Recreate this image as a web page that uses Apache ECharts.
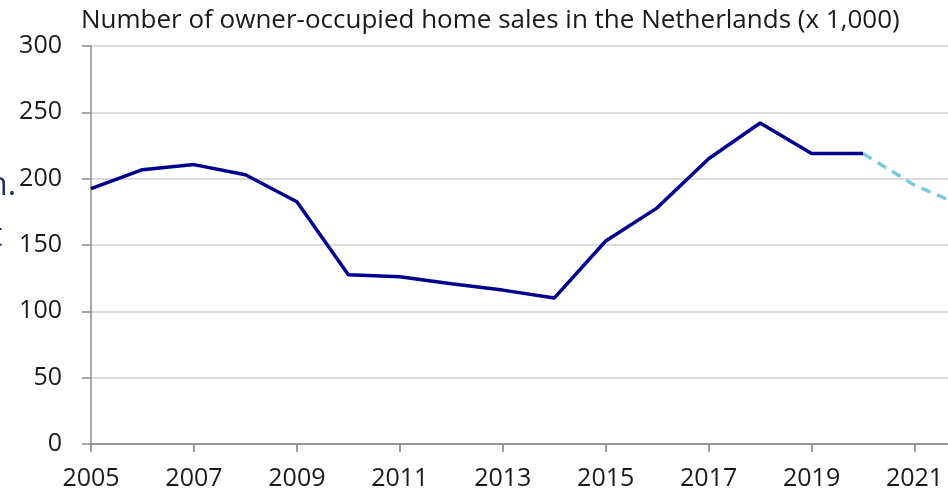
<!DOCTYPE html>
<html><head><meta charset="utf-8">
<script src="https://cdn.jsdelivr.net/npm/echarts@6/dist/echarts.min.js"></script>
<style>html,body{margin:0;padding:0;background:#fff;overflow:hidden;width:948px;height:495px;}#c{width:966px;height:495px;}</style>
</head><body><div id="c"></div>
<script>
const years = ['2005','2006','2007','2008','2009','2010','2011','2012','2013','2014','2015','2016','2017','2018','2019','2020','2021','2022'];
const sales = [192.5,206.8,210.6,203,182.6,127.5,126,120.8,116,110,153,178,215,242,219,219,null,null];
const forecast = [null,null,null,null,null,null,null,null,null,null,null,null,null,null,null,219,195,178.5];
const yTicks = [0,50,100,150,200,250,300];
const titleText = 'Number of owner-occupied home sales in the Netherlands (x 1,000)';

const chart = echarts.init(document.getElementById('c'), null, {renderer:'canvas'});
const font = '"Open Sans", "Noto Sans", sans-serif';
chart.setOption({
  animation:false,
  title:{text:titleText,left:81,top:8,padding:0,textStyle:{fontFamily:font,fontSize:26,fontWeight:'normal',color:'#1a1a1a'}},
  graphic:[
    {type:'text',left:-12,top:170,style:{text:'n.',font:'32px '+font,fill:'#2b2f6b'}},
    {type:'text',left:-9,top:221,style:{text:'t',font:'32px '+font,fill:'#2b2f6b'}}
  ],
  grid:{left:91,right:0,top:46,bottom:51,containLabel:false},
  xAxis:{type:'category',data:years,boundaryGap:false,
    axisLine:{lineStyle:{color:'#7f7f7f',width:1.5}},
    axisTick:{interval:1,length:8,lineStyle:{color:'#7f7f7f',width:1.5}},
    axisLabel:{interval:1,margin:22,fontFamily:font,fontSize:25,color:'#1a1a1a'},
    splitLine:{show:false}},
  yAxis:{type:'value',min:yTicks[0],max:yTicks[yTicks.length-1],interval:50,
    axisLine:{show:true,lineStyle:{color:'#8c8c8c',width:1.5}},
    axisTick:{show:true,length:9,lineStyle:{color:'#8c8c8c',width:1.5}},
    axisLabel:{margin:29,fontFamily:font,fontSize:25,color:'#1a1a1a'},
    splitLine:{lineStyle:{color:'#dcdcdc',width:2}}},
  series:[
    {type:'line',data:sales,symbol:'none',lineStyle:{color:'#00008f',width:3.5},connectNulls:false,z:3},
    {type:'line',data:forecast,symbol:'none',lineStyle:{color:'#7ecbe0',width:3.5,type:[10,7]},z:2}
  ]
});
</script></body></html>
